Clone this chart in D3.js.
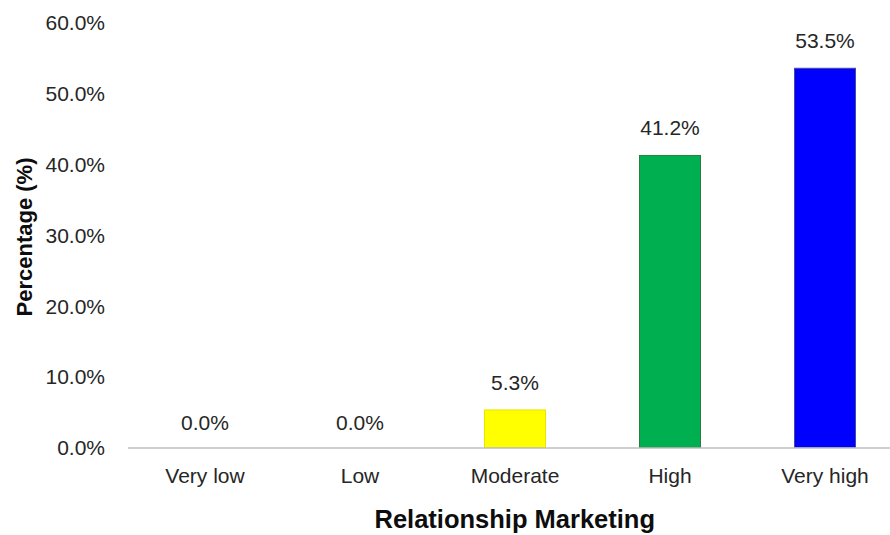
<!DOCTYPE html>
<html>
<head>
<meta charset="utf-8">
<script src="https://cdn.jsdelivr.net/npm/d3@7"></script>
<style>
  html, body { margin: 0; padding: 0; background: #fff; }
  svg { display: block; font-family: "Liberation Sans", Arial, sans-serif; }
</style>
</head>
<body>
<svg id="chart" width="890" height="535"></svg>
<script>
// Survey response shares by level of relationship marketing
const categories = ["Very low", "Low", "Moderate", "High", "Very high"];
const percentages = [0.0, 0.0, 5.3, 41.2, 53.5];
const barColors = ["#FFFF00", "#FFFF00", "#FFFF00", "#00B050", "#0000FF"];
const barStrokes = ["#d8d800", "#d8d800", "#e6e600", "#2b7d3f", "#4848a0"];
const yTicks = [0, 10, 20, 30, 40, 50, 60];
const xTitle = "Relationship Marketing";
const yTitle = "Percentage (%)";

const svg = d3.select("#chart");
const plot = { left: 127.5, right: 902.5, top: 22.2, bottom: 447.5 };

const x = d3.scaleBand()
  .domain(categories)
  .range([plot.left, plot.right])
  .paddingInner(0.6)
  .paddingOuter(0.3);

const y = d3.scaleLinear()
  .domain([0, 60])
  .range([plot.bottom, plot.top]);

// Y axis: labels only, no line or ticks
const yAxis = d3.axisLeft(y)
  .tickValues(yTicks)
  .tickFormat(d => d.toFixed(1) + "%")
  .tickSize(0)
  .tickPadding(0);

const gy = svg.append("g")
  .attr("transform", "translate(105,0)")
  .call(yAxis);
gy.select(".domain").remove();
gy.selectAll("text")
  .attr("font-size", 21)
  .attr("font-family", "'Liberation Sans', Arial, sans-serif")
  .attr("fill", "#262626")
  .attr("dy", "0.35em");

// Bars
svg.append("g")
  .selectAll("rect")
  .data(percentages.map((v, i) => ({ cat: categories[i], v, i })).filter(d => d.v > 0))
  .join("rect")
  .attr("x", d => x(d.cat) + 0.5)
  .attr("y", d => y(d.v))
  .attr("width", x.bandwidth() - 1)
  .attr("height", d => y(0) - y(d.v))
  .attr("fill", d => barColors[d.i])
  .attr("stroke", d => barStrokes[d.i])
  .attr("stroke-width", 1);

// X axis: baseline and category labels
const xAxis = d3.axisBottom(x).tickSize(0).tickPadding(0);
const gx = svg.append("g")
  .attr("transform", `translate(0,${plot.bottom})`)
  .call(xAxis);
gx.select(".domain")
  .attr("stroke", "#bfbfbf")
  .attr("stroke-width", 1.6);
gx.selectAll("text")
  .attr("font-size", 21)
  .attr("font-family", "'Liberation Sans', Arial, sans-serif")
  .attr("fill", "#262626")
  .attr("dy", null)
  .attr("y", 35.5);

// Value labels above bars
svg.append("g")
  .selectAll("text")
  .data(percentages.map((v, i) => ({ cat: categories[i], v })))
  .join("text")
  .attr("x", d => x(d.cat) + x.bandwidth() / 2)
  .attr("y", d => y(d.v) - (d.v > 0 ? 20 : 18))
  .attr("text-anchor", "middle")
  .attr("font-size", 21)
  .attr("fill", "#262626")
  .text(d => d.v.toFixed(1) + "%");

// Axis titles
svg.append("text")
  .attr("x", (plot.left + 890) / 2 + 6)
  .attr("y", 528)
  .attr("text-anchor", "middle")
  .attr("font-size", 25.5)
  .attr("font-weight", "bold")
  .attr("fill", "#0d0d0d")
  .text(xTitle);

svg.append("text")
  .attr("transform", "translate(32,237) rotate(-90)")
  .attr("text-anchor", "middle")
  .attr("font-size", 22)
  .attr("font-weight", "bold")
  .attr("fill", "#0d0d0d")
  .text(yTitle);
</script>
</body>
</html>
